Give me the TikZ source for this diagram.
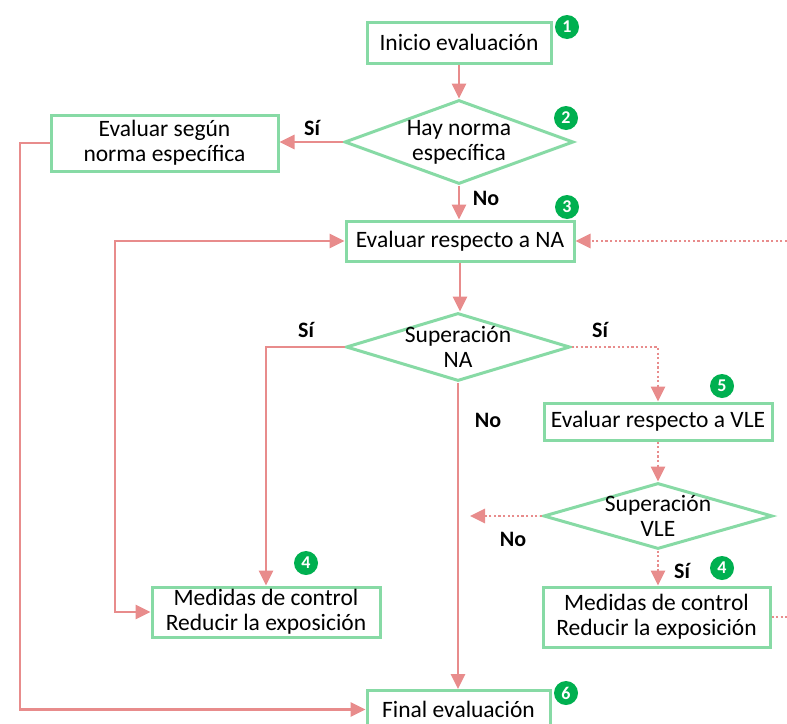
\documentclass[tikz,border=0pt]{standalone}
\usepackage{fontspec}
\setmainfont{Carlito}
\usetikzlibrary{arrows.meta, shapes.geometric}
\definecolor{boxgreen}{RGB}{135,218,165}
\definecolor{linkred}{RGB}{232,140,140}
\definecolor{badgegreen}{RGB}{0,176,80}
\tikzset{flow/.tip={Triangle[length=15pt,width=14pt]}}

\begin{document}
\begin{tikzpicture}[x=1pt,y=-1pt,
  box/.style={draw=boxgreen,line width=3pt,inner sep=0pt,align=center,font=\fontsize{23.5}{25}\selectfont},
  decision/.style={draw=boxgreen,line width=3pt,diamond,inner sep=0pt},
  txt/.style={align=center,font=\fontsize{23.5}{25}\selectfont},
  badge/.style={circle,fill=badgegreen,text=white,inner sep=0pt,minimum size=24pt,font=\fontsize{18}{18}\bfseries\selectfont},
  answer/.style={font=\fontsize{22}{22}\bfseries\selectfont},
  link/.style={draw=linkred,line width=2.7pt,-flow},
  dotlink/.style={link,dash pattern=on 2.2pt off 2.4pt}]
\useasboundingbox (0,0) rectangle (787,723);
\clip (0,0) rectangle (787,723);

\node[box,minimum width=184pt,minimum height=41pt] (inicio) at (459,42.5) {Inicio evaluación};
\node[badge] (b1) at (567,27) {1};
\node[decision,minimum width=229pt,minimum height=84pt] (hay) at (459,142) {};
\node[txt] (haytxt) at (hay) {Hay norma\\específica};
\node[badge] (b2) at (566,118) {2};
\node[box,minimum width=227pt,minimum height=56pt] (segun) at (164.5,143) {Evaluar según\\norma específica};
\node[box,minimum width=228pt,minimum height=40pt] (na) at (460,241) {Evaluar respecto a NA};
\node[badge] (b3) at (567,207) {3};
\node[decision,minimum width=224pt,minimum height=68pt] (supna) at (458,347) {};
\node[txt] (supnatxt) at (supna) {Superación\\NA};
\node[box,minimum width=228pt,minimum height=37pt] (vle) at (658,421.5) {Evaluar respecto a VLE};
\node[badge] (b5) at (722,386) {5};
\node[decision,minimum width=229pt,minimum height=66pt] (supvle) at (658,516) {};
\node[txt] (supvletxt) at (supvle) {Superación\\VLE};
\node[box,minimum width=228pt,minimum height=50pt] (medna) at (266,612) {Medidas de control\\Reducir la exposición};
\node[badge] (b4a) at (306,563) {4};
\node[box,minimum width=227pt,minimum height=60pt] (medvle) at (656.5,617) {Medidas de control\\Reducir la exposición};
\node[badge] (b4b) at (722,568) {4};
\node[box,minimum width=183pt,minimum height=38pt] (final) at (458.5,709.5) {Final evaluación};
\node[badge] (b6) at (566,693) {6};

\node[answer] (si1) at (312,128) {Sí};
\node[answer] (no1) at (486,198) {No};
\node[answer] (si2) at (306,330) {Sí};
\node[answer] (si3) at (600,330) {Sí};
\node[answer] (no2) at (488,420) {No};
\node[answer] (no3) at (513,539) {No};
\node[answer] (si4) at (682,571) {Sí};

\coordinate (naright) at (787,241);
\coordinate (vleno) at (470,516);
\coordinate (medright) at (787,617);
\coordinate (loop) at (115,0);
\coordinate (outer) at (20,0);

\draw[link] (inicio.south) -- (inicio.south |- hay.north);
\draw[link] (hay.west) -- (hay.west -| segun.east);
\draw[link] (hay.south) -- (hay.south |- na.north);
\draw[link] (segun.west) -- (segun.west -| outer) |- (final.west);
\draw[dotlink] (naright) -- (na.east);
\draw[link,flow-flow] (na.west) -- (na.west -| loop) |- (medna.west);
\draw[link] (na.south) -- (na.south |- supna.north);
\draw[link] (supna.west) -| (medna.north);
\draw[dotlink] (supna.east) -| (vle.north);
\draw[link] (supna.south) -- (supna.south |- final.north);
\draw[dotlink] (vle.south) -- (vle.south |- supvle.north);
\draw[dotlink] (supvle.west) -- (vleno);
\draw[dotlink] (supvle.south) -- (supvle.south |- medvle.north);
\draw[dotlink,-] (medvle.east) -- (medright);
\end{tikzpicture}
\end{document}
